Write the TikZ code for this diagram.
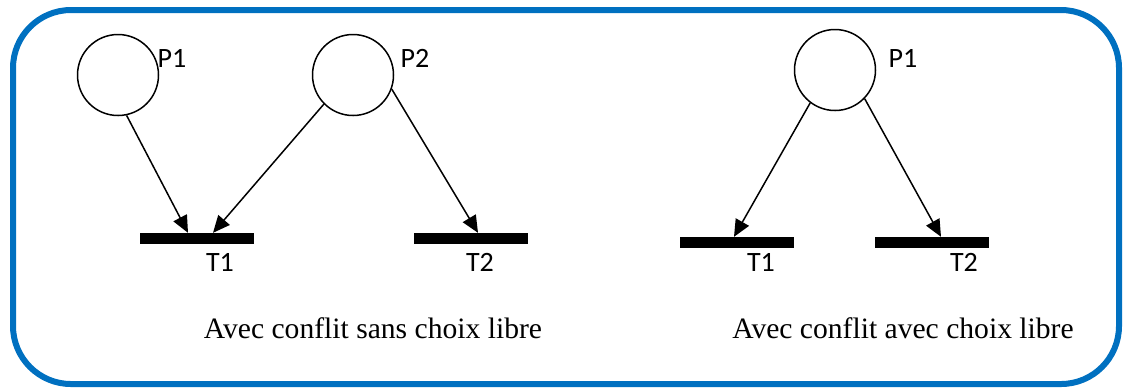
\documentclass[tikz,border=0pt]{standalone}
\usepackage{fontspec}
\setmainfont{Liberation Serif}
\newfontfamily\labelfont{Carlito}
\usetikzlibrary{arrows.meta}
\definecolor{frameblue}{RGB}{0,112,192}

\begin{document}
\begin{tikzpicture}[
        x=0.5pt, y=-0.5pt,
        place/.style={draw, circle, line width=0.75pt, minimum size=40.5pt, inner sep=0pt},
        trans/.style={rectangle, fill=black, minimum width=57pt, minimum height=5.3pt, inner sep=0pt},
        netlabel/.style={font=\labelfont\fontsize{14}{16}\selectfont, inner sep=0pt},
        caption/.style={font=\fontsize{14.8}{17}\selectfont, inner sep=0pt, anchor=base},
        arc/.style={-{Triangle[length=8.5pt, width=7.5pt]}, line width=0.75pt},
        frame/.style={draw=frameblue, line width=3pt, rounded corners=29pt}
    ]
        \useasboundingbox (0,0) rectangle (1124,388);
        \draw[frame] (13,10) rectangle (1119,384);

        % sans choix libre
        \node[place] (p1_sans) at (118,75) {};
        \node[place] (p2_sans) at (353,75) {};
        \node[netlabel] (lbl_p1_sans) at (172,58) {P1};
        \node[netlabel] (lbl_p2_sans) at (415,58) {P2};

        \node[trans] (t1_sans) at (197,238.5) {};
        \node[trans] (t2_sans) at (471,238.5) {};
        \node[netlabel] (lbl_t1_sans) at (220,262) {T1};
        \node[netlabel] (lbl_t2_sans) at (480,262) {T2};

        \draw[arc] (p1_sans.-78) -- ([xshift=-4.5pt]t1_sans.north);
        \draw[arc] (p2_sans.-135) -- ([xshift=8pt]t1_sans.north);
        \draw[arc] (p2_sans.-20) -- ([xshift=3.5pt]t2_sans.north);

        \node[caption] (cap_sans) at (373,338) {Avec conflit sans choix libre};

        % avec choix libre
        \node[place] (p1_avec) at (835,70) {};
        \node[netlabel] (lbl_p1_avec) at (903,58) {P1};

        \node[trans] (t1_avec) at (737,242.5) {};
        \node[trans] (t2_avec) at (932,242.5) {};
        \node[netlabel] (lbl_t1_avec) at (761,262) {T1};
        \node[netlabel] (lbl_t2_avec) at (964,262) {T2};

        \draw[arc] (p1_avec.-127) -- ([xshift=-1.5pt]t1_avec.north);
        \draw[arc] (p1_avec.-44) -- ([xshift=4.5pt]t2_avec.north);

        \node[caption] (cap_avec) at (903,338) {Avec conflit avec choix libre};

    \end{tikzpicture}
\end{document}
